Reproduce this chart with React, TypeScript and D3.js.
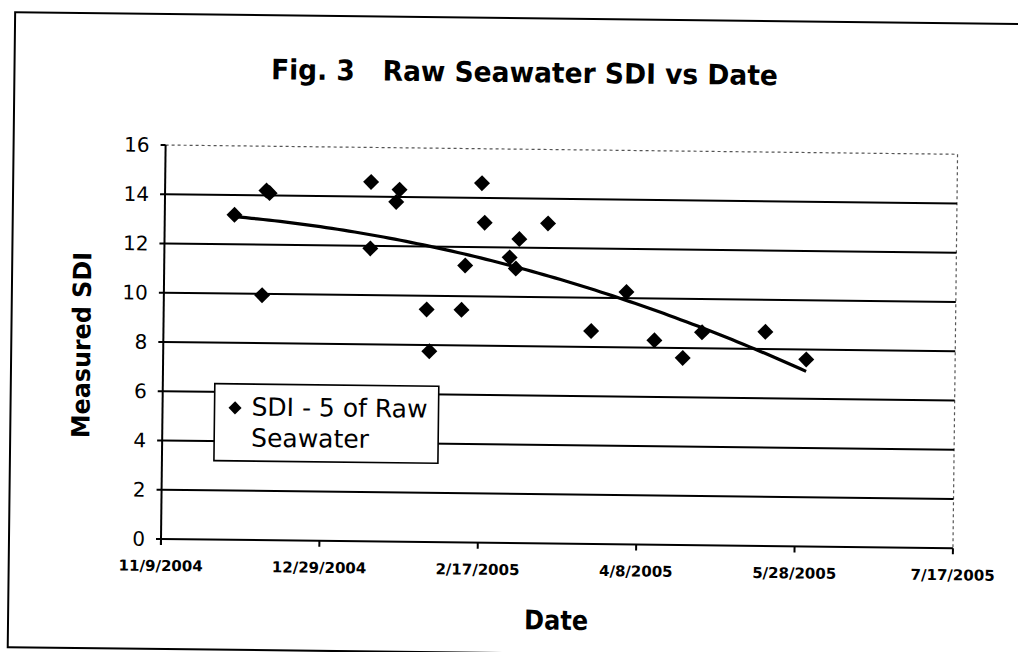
import React from 'react';
import * as d3 from 'd3';

// ---- data ----
const sampleDates = [
  '2004-12-01', '2004-12-10', '2004-12-11', '2004-12-12',
  '2005-01-13', '2005-01-13', '2005-01-21', '2005-01-22',
  '2005-01-31', '2005-02-01', '2005-02-11', '2005-02-12',
  '2005-02-17', '2005-02-18', '2005-02-26', '2005-02-28',
  '2005-03-01', '2005-03-10', '2005-03-24', '2005-04-04',
  '2005-04-13', '2005-04-22', '2005-04-28', '2005-05-18',
  '2005-05-31',
];
const sdiValues = [
  13.2, 9.95, 14.2, 14.1,
  14.6, 11.9, 13.8, 14.3,
  9.45, 7.75, 9.45, 11.25,
  14.6, 13.0, 11.6, 11.15,
  12.35, 13.0, 8.65, 10.25,
  8.3, 7.6, 8.65, 8.7,
  7.6,
];
const xTickDates = ['2004-11-09', '2004-12-29', '2005-02-17', '2005-04-08', '2005-05-28', '2005-07-17'];
const yTicks = [0, 2, 4, 6, 8, 10, 12, 14, 16];

const titleText = 'Fig. 3   Raw Seawater SDI vs Date';
const xLabel = 'Date';
const yLabel = 'Measured SDI';
const legendLines = ['SDI - 5 of Raw', 'Seawater'];

// ---- layout ----
const W = 1018;
const H = 652;
const plotLeft = 161;
const plotRight = 953;
const plotTop = 145;
const plotBottom = 539;
const tilt = 0.67;

const parse = d3.utcParse('%Y-%m-%d');
const fmt = d3.utcFormat('%-m/%-d/%Y');

function quadFit(xs: number[], ys: number[]) {
  const n = xs.length;
  const mx = d3.mean(xs)!;
  const sx = 100;
  const t = xs.map((x) => (x - mx) / sx);
  const S = (p: number) => d3.sum(t, (v) => Math.pow(v, p));
  const T = (p: number) => d3.sum(t, (v, i) => Math.pow(v, p) * ys[i]);
  const A = [
    [n, S(1), S(2), T(0)],
    [S(1), S(2), S(3), T(1)],
    [S(2), S(3), S(4), T(2)],
  ];
  for (let i = 0; i < 3; i++) {
    let p = i;
    for (let r = i + 1; r < 3; r++) if (Math.abs(A[r][i]) > Math.abs(A[p][i])) p = r;
    [A[i], A[p]] = [A[p], A[i]];
    for (let r = 0; r < 3; r++) {
      if (r === i) continue;
      const f = A[r][i] / A[i][i];
      for (let c = i; c < 4; c++) A[r][c] -= f * A[i][c];
    }
  }
  const c0 = A[0][3] / A[0][0];
  const c1 = A[1][3] / A[1][1];
  const c2 = A[2][3] / A[2][2];
  return (x: number) => {
    const u = (x - mx) / sx;
    return c0 + c1 * u + c2 * u * u;
  };
}

export default function App() {
  const tickDates = xTickDates.map((s) => parse(s)!);
  const x = d3.scaleUtc().domain([tickDates[0], tickDates[tickDates.length - 1]]).range([plotLeft, plotRight]);
  const y = d3.scaleLinear().domain([0, 16]).range([plotBottom, plotTop]);

  const pts = sampleDates.map((s, i) => ({ d: parse(s)!, v: sdiValues[i] }));
  const dayMs = 86400000;
  const xsDays = pts.map((p) => p.d.getTime() / dayMs);
  const fit = quadFit(xsDays, sdiValues);
  const d0 = d3.min(xsDays)!;
  const d1 = d3.max(xsDays)!;
  const trend = d3.range(0, 101).map((k) => {
    const dd = d0 + ((d1 - d0) * k) / 100;
    return [x(new Date(dd * dayMs)), y(fit(dd))] as [number, number];
  });
  const line = d3.line();

  const diamond = d3.symbol().type(d3.symbolSquare).size(128)();
  const legendDiamond = d3.symbol().type(d3.symbolSquare).size(85)();

  const font = "'DejaVu Sans', Verdana, sans-serif";

  return (
    <svg width={W} height={H} style={{ position: 'absolute', left: 0, top: 0, background: '#fff' }}>
      <rect x={0} y={0} width={W} height={H} fill="#fff" />
      <g transform={`rotate(${tilt} ${plotLeft} ${plotBottom})`}>
        {/* outer frame */}
        <rect x={9} y={14} width={1300} height={635} fill="none" stroke="#000" strokeWidth={2} />

        {/* title */}
        <text x={519} y={78} textAnchor="middle" fontFamily={font} fontWeight="bold" fontSize={28}
          textLength={507} lengthAdjust="spacingAndGlyphs" style={{ whiteSpace: 'pre' }}>
          {titleText}
        </text>

        {/* plot border (dotted) */}
        <line x1={plotLeft} x2={plotRight} y1={y(16)} y2={y(16)} stroke="#555" strokeWidth={1.2} strokeDasharray="3 3" />
        <line x1={plotRight} x2={plotRight} y1={y(16)} y2={y(0)} stroke="#555" strokeWidth={1.2} strokeDasharray="3 3" />

        {/* gridlines */}
        {yTicks.filter((t) => t > 0 && t < 16).map((t) => (
          <line key={t} x1={plotLeft} x2={plotRight} y1={y(t)} y2={y(t)} stroke="#000" strokeWidth={2} />
        ))}

        {/* axes */}
        <line x1={plotLeft} x2={plotRight} y1={y(0)} y2={y(0)} stroke="#000" strokeWidth={2} />
        <line x1={plotLeft} x2={plotLeft} y1={y(16)} y2={y(0) + 6} stroke="#000" strokeWidth={2} />
        {yTicks.map((t) => (
          <g key={t}>
            <line x1={plotLeft - 5} x2={plotLeft} y1={y(t)} y2={y(t)} stroke="#000" strokeWidth={2} />
            <text x={plotLeft - 16} y={y(t) + 7} textAnchor="end" fontFamily={font} fontSize={20}>
              {t}
            </text>
          </g>
        ))}
        {tickDates.map((d, i) => (
          <g key={i}>
            <line x1={x(d)} x2={x(d)} y1={y(0)} y2={y(0) + 6} stroke="#000" strokeWidth={2} />
            <text x={x(d)} y={y(0) + 32} textAnchor="middle" fontFamily={font} fontWeight="bold" fontSize={15}>
              {fmt(d)}
            </text>
          </g>
        ))}

        {/* axis titles */}
        <text x={(plotLeft + plotRight) / 2} y={625} textAnchor="middle" fontFamily={font} fontWeight="bold" fontSize={27}
          textLength={64} lengthAdjust="spacingAndGlyphs">
          {xLabel}
        </text>
        <text transform={`translate(88 ${(plotTop + plotBottom) / 2 + 4}) rotate(-90)`} textAnchor="middle" fontFamily={font} fontWeight="bold" fontSize={25}
          textLength={186} lengthAdjust="spacingAndGlyphs">
          {yLabel}
        </text>

        {/* trend line */}
        <path d={line(trend) || ''} fill="none" stroke="#000" strokeWidth={3.2} />

        {/* points */}
        {pts.map((p, i) => (
          <path key={i} d={diamond || ''} transform={`translate(${x(p.d)} ${y(p.v)}) rotate(45)`} fill="#000" />
        ))}

        {/* legend */}
        <rect x={213} y={383} width={224} height={77} fill="#fff" stroke="#000" strokeWidth={1.6} />
        <path d={legendDiamond || ''} transform="translate(233.5 407) rotate(45)" fill="#000" />
        <text x={250} y={414.5} fontFamily={font} fontSize={25}>{legendLines[0]}</text>
        <text x={250} y={445.5} fontFamily={font} fontSize={25}>{legendLines[1]}</text>
      </g>
    </svg>
  );
}
